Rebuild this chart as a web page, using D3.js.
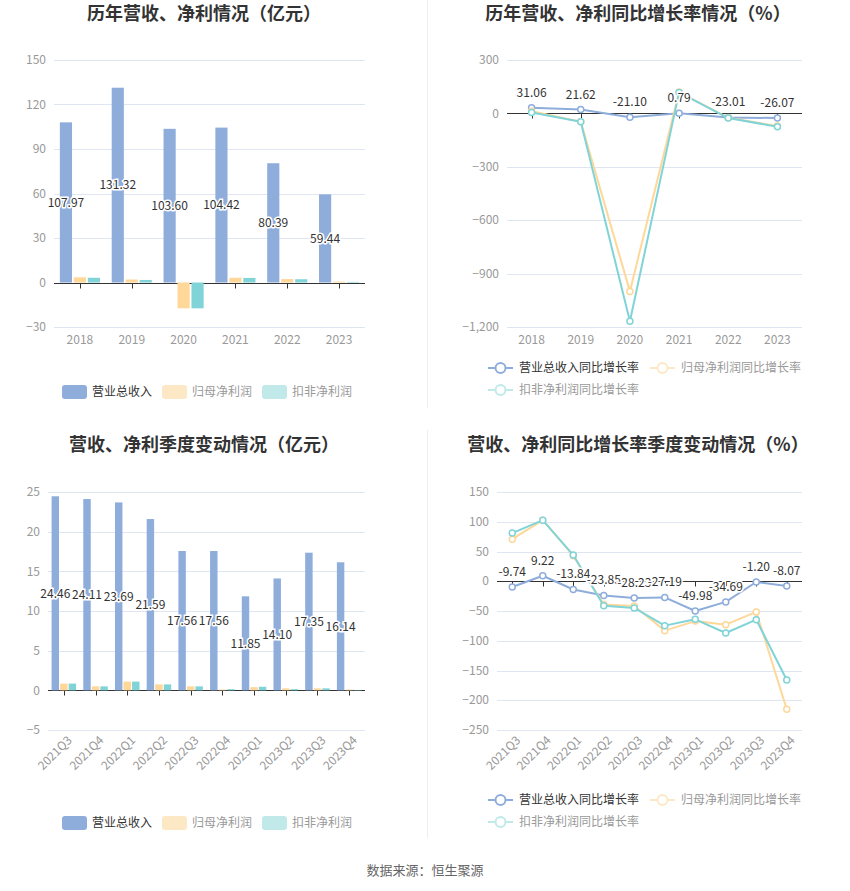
<!DOCTYPE html>
<html>
<head>
<meta charset="utf-8">
<script src="https://cdn.jsdelivr.net/npm/d3@7"></script>
<style>
body { margin: 0; background: #fff; }
svg { display: block; font-family: "Noto Sans CJK SC", "Microsoft YaHei", sans-serif; }
</style>
</head>
<body>
<svg width="850" height="891"></svg>
<script>
// yearly data (亿元 / %)
var years = ["2018", "2019", "2020", "2021", "2022", "2023"];
var yearRevenue = [107.97, 131.32, 103.60, 104.42, 80.39, 59.44];
var yearProfit = [3.5, 2.0, -17.4, 3.2, 2.3, 0.6];
var yearDeducted = [3.2, 1.7, -17.4, 3.1, 2.2, 0.4];
var yearRevenueGrowth = [31.06, 21.62, -21.10, 0.79, -23.01, -26.07];
var yearProfitGrowth = [12, -47, -1000, 120, -25, -71];
var yearDeductedGrowth = [5, -47, -1168, 118, -26, -75];
var yearTicks = [-30, 0, 30, 60, 90, 120, 150];
var yearGrowthTicks = [-1200, -900, -600, -300, 0, 300];

// quarterly data
var quarters = ["2021Q3", "2021Q4", "2022Q1", "2022Q2", "2022Q3", "2022Q4", "2023Q1", "2023Q2", "2023Q3", "2023Q4"];
var qRevenue = [24.46, 24.11, 23.69, 21.59, 17.56, 17.56, 11.85, 14.10, 17.35, 16.14];
var qProfit = [0.85, 0.5, 1.1, 0.75, 0.5, 0.1, 0.4, 0.25, 0.25, 0.1];
var qDeducted = [0.85, 0.5, 1.1, 0.75, 0.5, 0.15, 0.45, 0.15, 0.25, 0.05];
var qRevenueGrowth = [-9.74, 9.22, -13.84, -23.85, -28.23, -27.19, -49.98, -34.69, -1.20, -8.07];
var qProfitGrowth = [70.7, 102.7, 43, -39, -41.7, -83, -67, -73, -51.6, -215];
var qDeductedGrowth = [81, 102.7, 44, -41, -44.8, -74.6, -64, -87, -64.5, -166];
var qTicks = [-5, 0, 5, 10, 15, 20, 25];
var qGrowthTicks = [-250, -200, -150, -100, -50, 0, 50, 100, 150];

var barNames = ["营业总收入", "归母净利润", "扣非净利润"];
var lineNames = ["营业总收入同比增长率", "归母净利润同比增长率", "扣非净利润同比增长率"];

var blue = "#8eaddb", orange = "#fed799", teal = "#80d4d7";
var fadedOrange = "#fde8c6", fadedTeal = "#c1e9ea";

var svg = d3.select("svg");
var fmt = d3.format(",");

// dividers
svg.append("line").attr("x1", 427.5).attr("x2", 427.5).attr("y1", 0).attr("y2", 408)
	.attr("stroke", "#eeeeee");
svg.append("line").attr("x1", 427.5).attr("x2", 427.5).attr("y1", 430).attr("y2", 838)
	.attr("stroke", "#eeeeee");

function title(text, x, y) {
	svg.append("text")
		.attr("x", x).attr("y", y)
		.attr("dy", ".35em")
		.attr("text-anchor", "middle")
		.style("font-size", "18px")
		.style("font-weight", "bold")
		.attr("fill", "#333")
		.text(text);
}

function frame(o) {
	var x = d3.scaleBand().domain(o.cats).range([o.left, o.right]);
	var y = d3.scaleLinear()
		.domain([o.ticks[0], o.ticks[o.ticks.length - 1]])
		.range([o.bottom, o.top]);
	var g = svg.append("g");

	g.selectAll(".grid").data(o.ticks).enter().append("line")
		.attr("x1", o.left).attr("x2", o.right)
		.attr("y1", function(d) { return Math.round(y(d)) + 0.5; })
		.attr("y2", function(d) { return Math.round(y(d)) + 0.5; })
		.attr("stroke", "#e0e6f1");

	g.selectAll(".ylab").data(o.ticks).enter().append("text")
		.attr("x", o.left - 8)
		.attr("y", function(d) { return y(d); })
		.attr("dy", ".35em")
		.attr("text-anchor", "end")
		.attr("fill", "#999")
		.style("font-size", "12px")
		.text(function(d) { return fmt(d); });

	var zero = Math.round(y(0)) + 0.5;
	g.append("line")
		.attr("x1", o.left).attr("x2", o.right)
		.attr("y1", zero).attr("y2", zero)
		.attr("stroke", "#333");

	g.selectAll(".tick").data(o.cats).enter().append("line")
		.attr("x1", function(d) { return Math.round(x(d) + x.bandwidth() / 2) + 0.5; })
		.attr("x2", function(d) { return Math.round(x(d) + x.bandwidth() / 2) + 0.5; })
		.attr("y1", zero).attr("y2", zero + 5)
		.attr("stroke", "#333");

	var labs = g.selectAll(".xlab").data(o.cats).enter().append("text")
		.attr("fill", "#999")
		.style("font-size", "12px")
		.text(function(d) { return d; });
	if (o.rotate) {
		labs.attr("text-anchor", "end")
			.attr("dy", ".7em")
			.attr("transform", function(d) {
				return "translate(" + (x(d) + x.bandwidth() / 2 + 3) + "," + (o.bottom + 5) + ") rotate(-45)";
			});
	} else {
		labs.attr("text-anchor", "middle")
			.attr("dy", ".35em")
			.attr("x", function(d) { return x(d) + x.bandwidth() / 2; })
			.attr("y", o.bottom + 13);
	}
	return { x: x, y: y, g: g };
}

function barChart(o, series) {
	var f = frame(o);
	var x = f.x, y = f.y;
	var inner = d3.scaleBand().domain(d3.range(series.length))
		.range([0, x.bandwidth()])
		.paddingInner(0.13).paddingOuter(0.42);

	series.forEach(function(s, k) {
		f.g.selectAll(".bar" + k).data(s.values).enter().append("rect")
			.attr("x", function(d, i) { return x(o.cats[i]) + inner(k); })
			.attr("width", inner.bandwidth())
			.attr("y", function(d) { return y(Math.max(0, d)); })
			.attr("height", function(d) { return Math.abs(y(d) - y(0)); })
			.attr("fill", s.color);
	});

	f.g.selectAll(".blab").data(series[0].values).enter().append("text")
		.attr("x", function(d, i) { return x(o.cats[i]) + inner(0) + inner.bandwidth() / 2; })
		.attr("y", function(d) { return y(d / 2); })
		.attr("dy", ".35em")
		.attr("text-anchor", "middle")
		.attr("fill", "#333")
		.attr("stroke", "#fff")
		.attr("stroke-width", 3)
		.attr("paint-order", "stroke")
		.style("font-size", "12px")
		.text(function(d) { return d.toFixed(2); });
}

function lineChart(o, series) {
	var f = frame(o);
	var x = f.x, y = f.y;
	var cx = function(i) { return x(o.cats[i]) + x.bandwidth() / 2; };
	var line = d3.line()
		.x(function(d, i) { return cx(i); })
		.y(function(d) { return y(d); });

	series.forEach(function(s, k) {
		f.g.append("path")
			.datum(s.values)
			.attr("fill", "none")
			.attr("stroke", s.color)
			.attr("stroke-width", 2)
			.attr("stroke-linejoin", "round")
			.attr("d", line);
		f.g.selectAll(".pt" + k).data(s.values).enter().append("circle")
			.attr("cx", function(d, i) { return cx(i); })
			.attr("cy", function(d) { return y(d); })
			.attr("r", 3)
			.attr("fill", "#fff")
			.attr("stroke", s.color)
			.attr("stroke-width", 1.5);
	});

	f.g.selectAll(".llab").data(series[0].values).enter().append("text")
		.attr("x", function(d, i) { return cx(i); })
		.attr("y", function(d) { return y(d) - 11; })
		.attr("text-anchor", "middle")
		.attr("fill", "#333")
		.attr("stroke", "#fff")
		.attr("stroke-width", 3)
		.attr("paint-order", "stroke")
		.style("font-size", "12px")
		.text(function(d) { return d.toFixed(2); });
}

function barLegend(y) {
	var xs = [62, 162, 262], cols = [blue, fadedOrange, fadedTeal], tc = ["#333", "#999", "#999"];
	barNames.forEach(function(n, i) {
		svg.append("rect")
			.attr("x", xs[i]).attr("y", y - 7)
			.attr("width", 25).attr("height", 14)
			.attr("rx", 3)
			.attr("fill", cols[i]);
		svg.append("text")
			.attr("x", xs[i] + 30).attr("y", y)
			.attr("dy", ".35em")
			.attr("fill", tc[i])
			.style("font-size", "12px")
			.text(n);
	});
}

function lineLegend(y) {
	var pos = [[488, y], [650, y], [488, y + 22]];
	var cols = [blue, fadedOrange, fadedTeal], tc = ["#333", "#999", "#999"];
	lineNames.forEach(function(n, i) {
		var p = pos[i];
		svg.append("line")
			.attr("x1", p[0]).attr("x2", p[0] + 25)
			.attr("y1", p[1]).attr("y2", p[1])
			.attr("stroke", cols[i]).attr("stroke-width", 2);
		svg.append("circle")
			.attr("cx", p[0] + 12.5).attr("cy", p[1])
			.attr("r", 5)
			.attr("fill", "#fff")
			.attr("stroke", cols[i]).attr("stroke-width", 2);
		svg.append("text")
			.attr("x", p[0] + 31).attr("y", p[1])
			.attr("dy", ".35em")
			.attr("fill", tc[i])
			.style("font-size", "12px")
			.text(n);
	});
}

// top left
title("历年营收、净利情况（亿元）", 204, 14);
barChart({ cats: years, ticks: yearTicks, left: 54, right: 365, top: 60, bottom: 327 }, [
	{ values: yearRevenue, color: blue },
	{ values: yearProfit, color: orange },
	{ values: yearDeducted, color: teal }
]);
barLegend(392);

// top right
title("历年营收、净利同比增长率情况（%）", 638, 14);
lineChart({ cats: years, ticks: yearGrowthTicks, left: 507, right: 802, top: 60, bottom: 327 }, [
	{ values: yearRevenueGrowth, color: blue },
	{ values: yearProfitGrowth, color: orange },
	{ values: yearDeductedGrowth, color: teal }
]);
lineLegend(368);

// bottom left
title("营收、净利季度变动情况（亿元）", 204, 445);
barChart({ cats: quarters, ticks: qTicks, left: 48, right: 365, top: 492, bottom: 730, rotate: true }, [
	{ values: qRevenue, color: blue },
	{ values: qProfit, color: orange },
	{ values: qDeducted, color: teal }
]);
barLegend(823);

// bottom right
title("营收、净利同比增长率季度变动情况（%）", 638, 445);
lineChart({ cats: quarters, ticks: qGrowthTicks, left: 497, right: 802, top: 492, bottom: 730, rotate: true }, [
	{ values: qRevenueGrowth, color: blue },
	{ values: qProfitGrowth, color: orange },
	{ values: qDeductedGrowth, color: teal }
]);
lineLegend(800);

svg.append("text")
	.attr("x", 425).attr("y", 870)
	.attr("dy", ".35em")
	.attr("text-anchor", "middle")
	.attr("fill", "#666")
	.style("font-size", "13px")
	.text("数据来源：恒生聚源");
</script>
</body>
</html>
